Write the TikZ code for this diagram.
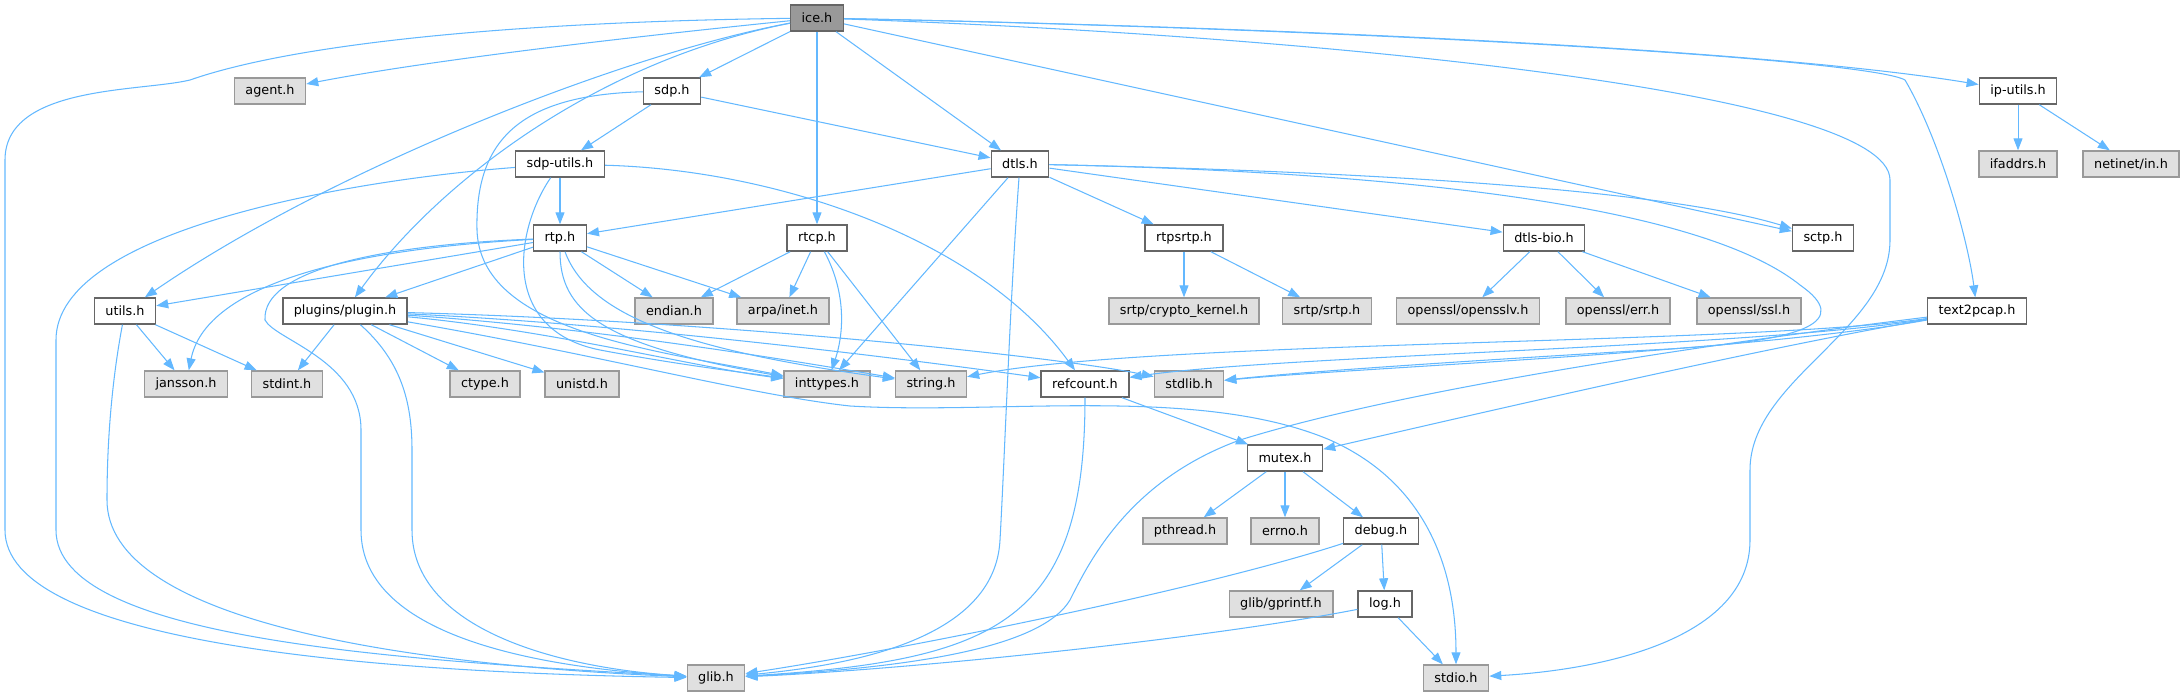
\documentclass[tikz,border=0pt]{standalone}
\usepackage{fontspec}
\setmainfont{DejaVu Sans}
\usetikzlibrary{arrows.meta}
\definecolor{edgec}{HTML}{63B8FF}
\definecolor{grayfill}{HTML}{E0E0E0}
\definecolor{grayline}{HTML}{999999}
\definecolor{darkline}{HTML}{666666}
\definecolor{curfill}{HTML}{999999}
\begin{document}
\begin{tikzpicture}[x=1pt,y=-1pt,
  box/.style={draw=darkline, fill=white, line width=1.4pt, minimum height=26pt,
    inner xsep=11pt, inner ysep=0pt, font=\fontsize{12.8}{15}\selectfont, text=black},
  sys/.style={box, draw=grayline, fill=grayfill},
  cur/.style={box, draw=darkline, fill=curfill},
  dep/.style={draw=edgec, line width=1.05pt, -{Triangle[length=12pt,width=9pt]}}]
\useasboundingbox (0,0) rectangle (2184,696);

% nodes
\node[cur] (ice) at (817,18) {ice.h};
\node[sys] (agent) at (270,91) {agent.h};
\node[box] (sdp) at (672,91) {sdp.h};
\node[box] (iputils) at (2018,91) {ip-utils.h};
\node[box] (sdputils) at (560,164) {sdp-utils.h};
\node[box] (dtls) at (1020,164) {dtls.h};
\node[sys] (ifaddrs) at (2018,164) {ifaddrs.h};
\node[sys] (netinet) at (2131,164) {netinet/in.h};
\node[box] (rtp) at (560,238) {rtp.h};
\node[box] (rtcp) at (817,238) {rtcp.h};
\node[box] (rtpsrtp) at (1184,238) {rtpsrtp.h};
\node[box] (dtlsbio) at (1544,238) {dtls-bio.h};
\node[box] (sctp) at (1823,238) {sctp.h};
\node[box] (utils) at (125,311) {utils.h};
\node[box] (plugin) at (345,311) {plugins/plugin.h};
\node[sys] (endian) at (674,311) {endian.h};
\node[sys] (arpa) at (783,311) {arpa/inet.h};
\node[sys] (crypto) at (1184,311) {srtp/crypto\_kernel.h};
\node[sys] (srtp) at (1327,311) {srtp/srtp.h};
\node[sys] (opensslv) at (1468,311) {openssl/opensslv.h};
\node[sys] (err) at (1618,311) {openssl/err.h};
\node[sys] (ssl) at (1749,311) {openssl/ssl.h};
\node[box] (tpcap) at (1977,311) {text2pcap.h};
\node[sys] (jansson) at (186,384) {jansson.h};
\node[sys] (stdint) at (287,384) {stdint.h};
\node[sys] (ctype) at (485,384) {ctype.h};
\node[sys] (unistd) at (582,384) {unistd.h};
\node[sys] (inttypes) at (827,384) {inttypes.h};
\node[sys] (string) at (931,384) {string.h};
\node[box] (refcount) at (1085,384) {refcount.h};
\node[sys] (stdlib) at (1189,384) {stdlib.h};
\node[box] (mutex) at (1285,458) {mutex.h};
\node[sys] (pthread) at (1185,531) {pthread.h};
\node[sys] (errno) at (1285,531) {errno.h};
\node[box] (debug) at (1381,531) {debug.h};
\node[sys] (gprintf) at (1281,604) {glib/gprintf.h};
\node[box] (log) at (1385,604) {log.h};
\node[sys] (glib) at (716,678) {glib.h};
\node[sys] (stdio) at (1456,678) {stdio.h};

% ice.h
\draw[dep] (ice) .. controls (600,40) and (420,62) .. (agent);
\draw[dep] (ice) .. controls (500,22) and (290,45) .. (190,80)
  .. controls (140,92) and (5,85) .. (5,160) -- (5,530)
  .. controls (5,640) and (350,672) .. (glib);
\draw[dep] (ice) -- (sdp);
\draw[dep] (ice) .. controls (620,55) and (330,170) .. (utils);
\draw[dep] (ice) .. controls (600,60) and (440,180) .. (plugin);
\draw[dep] (ice) -- (rtcp);
\draw[dep] (ice) -- (dtls);
\draw[dep] (ice) -- (sctp);
\draw[dep] (ice) .. controls (1400,30) and (1800,55) .. (iputils);
\draw[dep] (ice) .. controls (1400,30) and (1870,60) .. (1905,80)
  .. controls (1940,140) and (1968,240) .. (tpcap);
\draw[dep] (ice) .. controls (1300,35) and (1890,90) .. (1890,180) -- (1890,240)
  .. controls (1890,330) and (1750,380) .. (1750,470) -- (1750,540)
  .. controls (1750,640) and (1600,670) .. (stdio);

% sdp.h
\draw[dep] (sdp) -- (sdputils);
\draw[dep] (sdp) -- (dtls);
\draw[dep] (sdp) .. controls (520,95) and (475,140) .. (477,230)
  .. controls (480,330) and (650,350) .. (inttypes);

% sdp-utils.h
\draw[dep] (sdputils) -- (rtp);
\draw[dep] (sdputils) .. controls (350,180) and (56,230) .. (56,340) -- (56,530)
  .. controls (56,640) and (400,660) .. (glib);
\draw[dep] (sdputils) .. controls (780,170) and (980,240) .. (refcount);
\draw[dep] (sdputils) .. controls (515,230) and (500,330) .. (600,350)
  .. controls (680,365) and (740,372) .. (inttypes);

% dtls.h
\draw[dep] (dtls) -- (rtp);
\draw[dep] (dtls) -- (inttypes);
\draw[dep] (dtls) .. controls (1010,300) and (1005,450) .. (1000,540)
  .. controls (995,640) and (850,665) .. (glib);
\draw[dep] (dtls) -- (rtpsrtp);
\draw[dep] (dtls) -- (dtlsbio);
\draw[dep] (dtls) .. controls (1300,170) and (1650,185) .. (sctp);
\draw[dep] (dtls) .. controls (1400,172) and (1700,205) .. (1800,285)
  .. controls (1850,320) and (1815,342) .. (1650,350)
  .. controls (1450,362) and (1300,372) .. (stdlib);

% rtp.h
\draw[dep] (rtp) -- (utils);
\draw[dep] (rtp) -- (plugin);
\draw[dep] (rtp) .. controls (330,250) and (205,290) .. (jansson);
\draw[dep] (rtp) .. controls (380,245) and (262,270) .. (265,320)
  .. controls (275,340) and (361,360) .. (361,430) -- (361,530)
  .. controls (361,640) and (550,668) .. (glib);
\draw[dep] (rtp) -- (endian);
\draw[dep] (rtp) -- (arpa);
\draw[dep] (rtp) .. controls (560,310) and (600,345) .. (inttypes);
\draw[dep] (rtp) .. controls (590,320) and (700,352) .. (string);

% rtcp.h
\draw[dep] (rtcp) -- (endian);
\draw[dep] (rtcp) -- (arpa);
\draw[dep] (rtcp) .. controls (845,290) and (845,330) .. (inttypes);
\draw[dep] (rtcp) -- (string);

% rtpsrtp.h, dtls-bio.h, ip-utils.h
\draw[dep] (rtpsrtp) -- (crypto);
\draw[dep] (rtpsrtp) -- (srtp);
\draw[dep] (dtlsbio) -- (opensslv);
\draw[dep] (dtlsbio) -- (err);
\draw[dep] (dtlsbio) -- (ssl);
\draw[dep] (iputils) -- (ifaddrs);
\draw[dep] (iputils) -- (netinet);

% utils.h
\draw[dep] (utils) -- (jansson);
\draw[dep] (utils) -- (stdint);
\draw[dep] (utils) .. controls (112,380) and (107,440) .. (107,500)
  .. controls (107,620) and (400,665) .. (glib);

% plugins/plugin.h
\draw[dep] (plugin) -- (stdint);
\draw[dep] (plugin) .. controls (400,360) and (412,400) .. (412,450) -- (412,530)
  .. controls (412,630) and (560,668) .. (glib);
\draw[dep] (plugin) -- (ctype);
\draw[dep] (plugin) -- (unistd);
\draw[dep] (plugin) .. controls (550,330) and (700,368) .. (inttypes);
\draw[dep] (plugin) .. controls (600,328) and (800,362) .. (string);
\draw[dep] (plugin) .. controls (650,325) and (950,365) .. (refcount);
\draw[dep] (plugin) .. controls (700,320) and (1050,355) .. (stdlib);
\draw[dep] (plugin) .. controls (600,355) and (750,395) .. (850,406)
  .. controls (1000,415) and (1200,385) .. (1330,440)
  .. controls (1420,480) and (1456,560) .. (stdio);

% text2pcap.h
\draw[dep] (tpcap) .. controls (1750,345) and (1150,340) .. (string);
\draw[dep] (tpcap) .. controls (1750,348) and (1280,355) .. (refcount);
\draw[dep] (tpcap) .. controls (1750,352) and (1350,368) .. (stdlib);
\draw[dep] (tpcap) .. controls (1700,345) and (1400,390) .. (1240,440)
  .. controls (1130,480) and (1090,560) .. (1070,600)
  .. controls (1040,650) and (900,668) .. (glib);
\draw[dep] (tpcap) .. controls (1750,350) and (1450,420) .. (mutex);

% refcount.h
\draw[dep] (refcount) -- (mutex);
\draw[dep] (refcount) .. controls (1085,620) and (1000,660) .. (glib);

% mutex.h
\draw[dep] (mutex) -- (pthread);
\draw[dep] (mutex) -- (errno);
\draw[dep] (mutex) -- (debug);

% debug.h
\draw[dep] (debug) .. controls (1200,590) and (900,650) .. (glib);
\draw[dep] (debug) -- (gprintf);
\draw[dep] (debug) -- (log);

% log.h
\draw[dep] (log) .. controls (1200,640) and (900,670) .. (glib);
\draw[dep] (log) -- (stdio);
\end{tikzpicture}
\end{document}
